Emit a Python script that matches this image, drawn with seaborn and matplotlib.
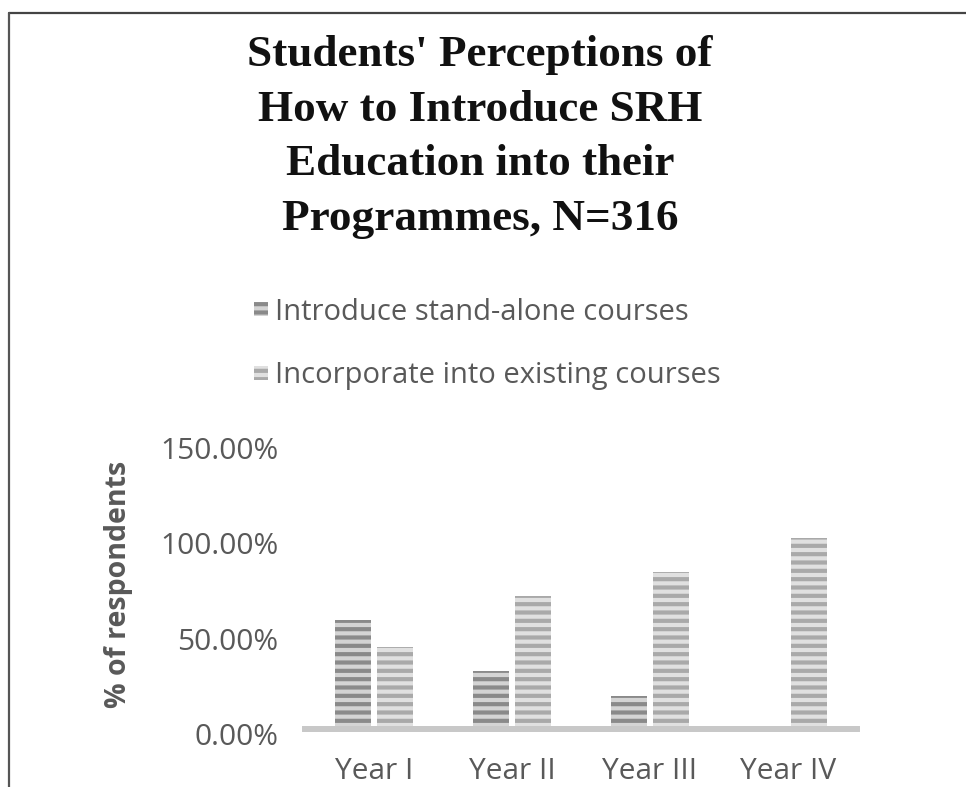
import matplotlib
matplotlib.use("Agg")
import matplotlib.pyplot as plt
import matplotlib.transforms as mtransforms
import seaborn as sns
import pandas as pd
from matplotlib.lines import Line2D
from matplotlib.ticker import FuncFormatter, FixedLocator

# ---- data ----
categories = ["Year I", "Year II", "Year III", "Year IV"]
series_names = ["Introduce stand-alone courses", "Incorporate into existing courses"]
standalone = [57.0, 30.4, 17.4, 0.0]
incorporate = [43.0, 69.6, 82.6, 100.0]
y_ticks = [0, 50, 100, 150]
title = "Students' Perceptions of\nHow to Introduce SRH\nEducation into their\nProgrammes, N=316"
y_label = "% of respondents"

df = pd.DataFrame({
    "Year": categories * 2,
    "Series": [series_names[0]] * 4 + [series_names[1]] * 4,
    "Value": standalone + incorporate,
})

sns.set_theme(style="white")
plt.rcParams["font.family"] = ["Open Sans", "DejaVu Sans"]
plt.rcParams["hatch.linewidth"] = 3.0

fig = plt.figure(figsize=(9.66, 7.87), dpi=100)
ax = fig.add_axes([305 / 966, 1 - 729 / 787, 552 / 966, 286 / 787])

face_colors = ["#d4d4d4", "#e0e0e0"]
hatch_colors = ["#8a8a8a", "#a9a9a9"]

sns.barplot(data=df, x="Year", y="Value", hue="Series", order=categories,
            hue_order=series_names, width=0.62, gap=0.16, ax=ax,
            palette=face_colors, legend=False, saturation=1)

for cont, fc, hc in zip(ax.containers, face_colors, hatch_colors):
    for p in cont.patches:
        p.set_facecolor(fc)
        p.set_edgecolor(hc)
        p.set_hatch("--")
        p.set_linewidth(0)

ax.set_ylim(0, 150)
ax.set_xlim(-0.5, 3.5)
ax.yaxis.set_major_locator(FixedLocator(y_ticks))
ax.yaxis.set_major_formatter(FuncFormatter(lambda v, _: f"{v:.2f}%"))
ax.tick_params(axis="both", length=0, labelcolor="#595959")
ax.tick_params(axis="y", pad=19, labelsize=21.5)
ax.tick_params(axis="x", pad=20, labelsize=21.5)
ax.set_xlabel("")
ax.set_ylabel(y_label, fontsize=20.5, fontweight="bold", color="#595959")
ax.yaxis.set_label_coords(-0.312, 0.507)

# Excel-like slight downward offset of the value labels
offset = mtransforms.ScaledTranslation(0, -5 / 100, fig.dpi_scale_trans)
for lab in ax.get_yticklabels():
    lab.set_transform(lab.get_transform() + offset)

for s in ["top", "right", "left"]:
    ax.spines[s].set_visible(False)
ax.spines["bottom"].set_color("#c8c8c8")
ax.spines["bottom"].set_linewidth(4.3)
ax.set_facecolor("none")

handles = list(ax.containers)
leg = fig.legend(handles, series_names, loc="center",
                 bbox_to_anchor=(0.5045, 1 - 344 / 787), frameon=False,
                 fontsize=21, labelcolor="#595959", labelspacing=1.18,
                 handlelength=0.48, handleheight=0.35, handletextpad=0.25)

fig.text(0.497, 1 - 35 / 787, title, ha="center", va="top",
         multialignment="center", fontsize=32.5, fontweight="bold",
         family=["Liberation Serif", "DejaVu Serif"], color="#111111",
         linespacing=1.47)

# figure frame (top and left edges visible)
fig.add_artist(Line2D([9 / 966, 1.0], [1 - 13 / 787, 1 - 13 / 787],
                      transform=fig.transFigure, color="#444444", lw=1.6))
fig.add_artist(Line2D([9 / 966, 9 / 966], [0, 1 - 13 / 787],
                      transform=fig.transFigure, color="#555555", lw=1.6))

fig.savefig("out.png", dpi=100)
